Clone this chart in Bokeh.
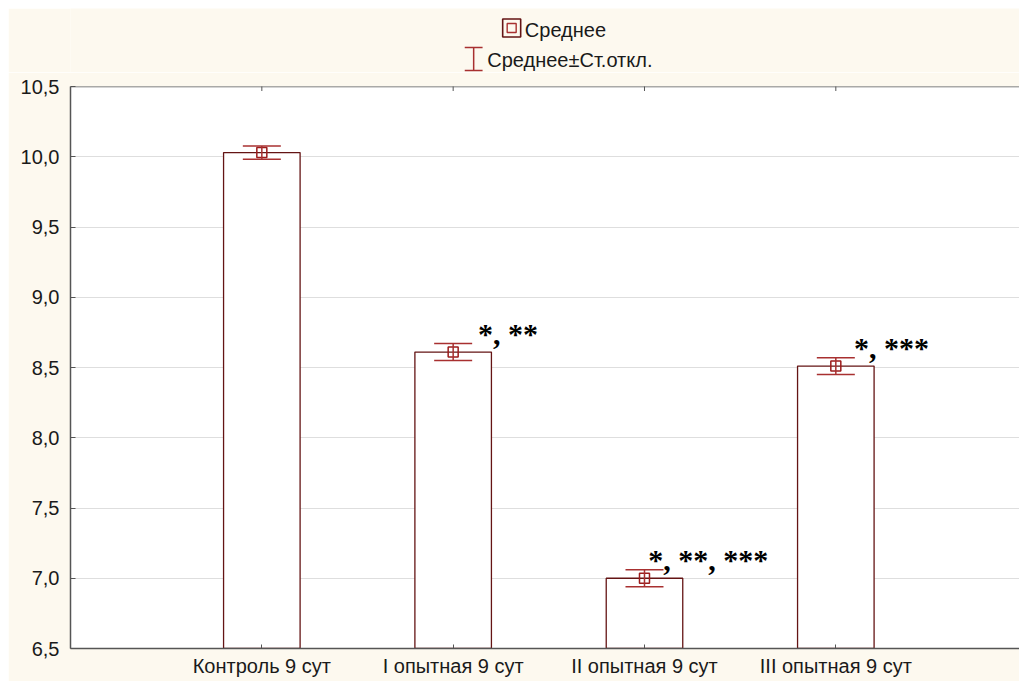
from bokeh.plotting import figure
from bokeh.models import (Range1d, FixedTicker, CustomJSTickFormatter, LinearAxis,
                          Whisker, TeeHead, ColumnDataSource, Span)
from bokeh.layouts import column
from bokeh.embed import file_html
from bokeh.resources import INLINE
from bokeh.core.properties import value

# ---------------- data ----------------
categories = ["Контроль 9 сут", "I опытная 9 сут", "II опытная 9 сут", "III опытная 9 сут"]
means = [10.03, 8.61, 7.00, 8.51]
sds = [0.047, 0.06, 0.06, 0.06]
notes = ["", "*, **", "*, **, ***", "*, ***"]
y_ticks = [6.5, 7.0, 7.5, 8.0, 8.5, 9.0, 9.5, 10.0, 10.5]
legend_labels = ["Среднее", "Среднее±Ст.откл."]

# ---------------- style ----------------
CREAM = "#FDF9EF"
BAR = "#641414"
ERR = "#a83030"
MARK = "#9c1c1c"
AXIS = "#555555"
TXT = "#1a1a1a"
FONT = "Liberation Sans"
note_dx = [0.0, 0.13, 0.02, 0.095]
note_dy = 0.072

xs = list(range(1, len(categories) + 1))
src = ColumnDataSource(dict(
    x=xs, mean=means,
    upper=[m + s for m, s in zip(means, sds)],
    lower=[m - s for m, s in zip(means, sds)],
    nx=[x + d for x, d in zip(xs, note_dx)],
    ny=[m + s + note_dy for m, s in zip(means, sds)],
    note=notes,
    top=[y_ticks[-1]] * len(xs),
))

# ---------------- main plot ----------------
p = figure(width=1011, height=609, x_range=Range1d(0, 4.96),
           y_range=Range1d(y_ticks[0], y_ticks[-1]),
           output_backend="svg", toolbar_location=None,
           min_border_left=62, min_border_right=0, min_border_top=14, min_border_bottom=33,
           background_fill_color="white", border_fill_color=CREAM,
           outline_line_color=None, x_axis_location=None, y_axis_location=None)

p.xgrid.visible = False
p.ygrid.ticker = FixedTicker(ticks=y_ticks)
p.ygrid.grid_line_color = "#dedede"
p.ygrid.grid_line_width = 1

yax = LinearAxis(ticker=FixedTicker(ticks=y_ticks),
                 formatter=CustomJSTickFormatter(code="return tick.toFixed(1).replace('.', ',');"))
yax.major_tick_in = 5
yax.major_tick_out = 0
yax.minor_tick_line_color = None
yax.major_label_standoff = 11
yax.major_label_text_font = FONT
yax.major_label_text_font_size = "20px"
yax.major_label_text_color = TXT
yax.axis_line_color = AXIS
yax.axis_line_width = 1.5
yax.major_tick_line_color = AXIS
p.add_layout(yax, "left")

xax = LinearAxis(ticker=FixedTicker(ticks=xs),
                 major_label_overrides={x: c for x, c in zip(xs, categories)})
xax.major_tick_in = 4
xax.major_tick_out = 0
xax.minor_tick_line_color = None
xax.major_label_standoff = 6
xax.major_label_text_font = FONT
xax.major_label_text_font_size = "20px"
xax.major_label_text_color = TXT
xax.axis_line_color = AXIS
xax.axis_line_width = 1.5
xax.major_tick_line_color = AXIS
p.add_layout(xax, "below")

# top frame line and inward ticks at the categories
p.add_layout(Span(location=y_ticks[-1], dimension="width", line_color=AXIS, line_width=1.5))
p.scatter(x="x", y="top", source=src, marker="dash", angle=1.5708, size=9,
          line_color=AXIS, line_width=1)

p.vbar(x="x", top="mean", bottom=y_ticks[0], width=0.4, source=src,
       fill_color="white", line_color=BAR, line_width=1.3)

p.add_layout(Whisker(source=src, base="x", upper="upper", lower="lower", dimension="height",
                     level="overlay", line_color=ERR, line_width=1.5,
                     upper_head=TeeHead(size=38, line_color=ERR, line_width=1.5),
                     lower_head=TeeHead(size=38, line_color=ERR, line_width=1.5)))

p.scatter(x="x", y="mean", source=src, marker="square", size=10, level="overlay",
          fill_color=None, line_color=MARK, line_width=1.5)

p.text(x="nx", y="ny", text="note", source=src,
       text_font=value("Liberation Serif"), text_font_style="bold",
       text_font_size="30px", text_baseline="middle", text_align="left",
       text_color="black")

# ---------------- legend (drawn in page pixel coordinates) ----------------
lg = figure(width=1011, height=64, x_range=Range1d(8, 1019), y_range=Range1d(72, 8),
            output_backend="svg", toolbar_location=None, min_border=0,
            background_fill_color=CREAM, border_fill_color=CREAM,
            outline_line_color=None, x_axis_location=None, y_axis_location=None)
lg.grid.visible = False

lg.scatter(x=[478], y=[27.5], marker="square", size=18, fill_color=None,
           line_color=BAR, line_width=1.6)
lg.scatter(x=[478], y=[27.5], marker="square", size=9, fill_color=None,
           line_color=ERR, line_width=1.4)
lg.text(x=[492], y=[29], text=[legend_labels[0]], text_font=value(FONT),
        text_font_size="20px", text_baseline="middle", text_color=TXT)

lg.segment(x0=[437.5, 428, 428], y0=[47, 47, 70], x1=[437.5, 447, 447], y1=[70, 47, 70],
           line_color=ERR, line_width=1.5)
lg.text(x=[452], y=[59], text=[legend_labels[1]], text_font=value(FONT),
        text_font_size="20px", text_baseline="middle", text_color=TXT)

layout = column(lg, p, spacing=0, margin=(8, 0, 0, 8))
open("out.html", "w").write(file_html(layout, INLINE))
